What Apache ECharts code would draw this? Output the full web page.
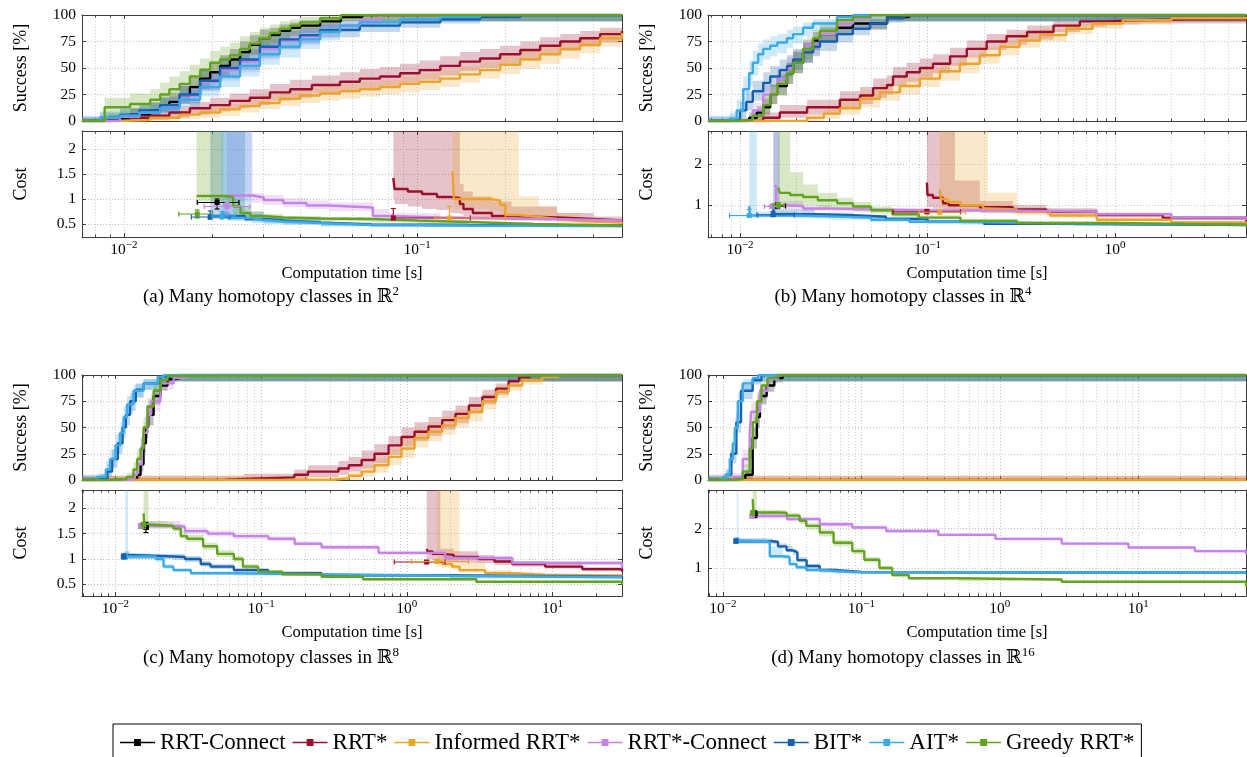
<!DOCTYPE html>
<html><head><meta charset="utf-8">
<script src="https://cdn.jsdelivr.net/npm/echarts/dist/echarts.min.js"></script>
<style>html,body{margin:0;padding:0;background:#fff}#c{width:1247px;height:757px}</style>
</head><body><div id="c"></div>
<script>
const planners = ['RRT-Connect','RRT*','Informed RRT*','RRT*-Connect','BIT*','AIT*','Greedy RRT*'];
const colors = ['#000000','#9b0f2c','#eda22a','#c883e8','#1661ae','#3aabe8','#62a31f'];

// rows: [time, median, lower CI, upper CI]
// ---------- (a) R^2 success ----------
const aS_RRTC = [[0.0072,0,0,2],[0.0089,2,0,6],[0.0105,6,2,12],[0.0123,10,5,18],[0.0133,14,8,22],[0.0143,18,11,27],[0.0155,24,16,33],[0.0168,32,23,42],[0.0182,40,30,50],[0.0197,46,36,56],[0.0213,52,42,62],[0.023,58,48,68],[0.0249,65,55,75],[0.0269,72,62,81],[0.0291,78,68,86],[0.0315,81,72,88],[0.034,85,77,91],[0.0369,88,80,93],[0.0399,90,83,95],[0.0467,94,88,98],[0.055,98,94,100],[0.065,100,94,100],[0.5,100,94,100]];
const aS_RRT = [[0.0072,0,0,0],[0.0089,1,0,3],[0.0105,3,0,7],[0.0123,5,1,10],[0.0143,8,3,14],[0.0168,12,6,18],[0.0197,15,9,22],[0.023,19,12,26],[0.0269,22,15,30],[0.0315,27,19,35],[0.0369,30,22,39],[0.0438,34,26,43],[0.0546,37,29,46],[0.0638,40,31,49],[0.0748,42,33,51],[0.0875,45,36,54],[0.102,48,39,57],[0.12,52,43,61],[0.14,56,47,65],[0.164,59,50,68],[0.192,63,54,71],[0.225,67,58,75],[0.263,71,62,79],[0.308,75,66,82],[0.36,78,70,85],[0.421,82,74,88],[0.5,85,77,90]];
const aS_IRRT = [[0.0072,0,0,0],[0.0097,1,0,3],[0.0123,3,0,6],[0.0155,6,2,10],[0.0182,8,3,13],[0.0213,11,5,16],[0.0249,14,8,20],[0.0291,17,11,24],[0.034,21,14,28],[0.0399,24,17,31],[0.0467,26,19,33],[0.0546,28,21,35],[0.0638,30,23,37],[0.0748,32,25,39],[0.0875,35,27,42],[0.102,37,29,45],[0.12,40,32,48],[0.14,44,36,52],[0.164,48,40,56],[0.192,53,44,61],[0.225,58,49,66],[0.263,63,54,71],[0.308,68,59,76],[0.36,72,64,80],[0.421,78,70,85],[0.5,83,75,88]];
const aS_RRTCS = [[0.0072,0,0,3],[0.0097,4,1,9],[0.0113,8,3,14],[0.0133,14,8,22],[0.0155,24,16,33],[0.0182,37,28,47],[0.0213,48,38,58],[0.0249,56,46,66],[0.0291,68,58,77],[0.034,76,67,84],[0.0399,80,72,87],[0.0467,85,78,91],[0.0546,90,84,95],[0.0638,95,90,98],[0.0748,100,94,100],[0.5,100,94,100]];
const aS_BIT = [[0.0072,0,0,4],[0.0083,3,0,8],[0.0097,6,2,12],[0.0113,10,5,17],[0.0133,15,9,23],[0.0155,25,17,34],[0.0182,38,29,47],[0.0213,50,40,60],[0.0249,58,48,68],[0.0291,70,60,79],[0.034,77,68,85],[0.0399,81,73,88],[0.0467,86,79,92],[0.0638,90,84,95],[0.0875,93,88,97],[0.12,96,92,99],[0.164,98,94,100],[0.225,100,94,100],[0.5,100,94,100]];
const aS_AIT = [[0.0072,0,0,5],[0.0083,3,0,9],[0.0097,5,1,11],[0.0113,8,3,15],[0.0133,12,6,20],[0.0155,20,13,29],[0.0182,32,23,42],[0.0213,42,32,52],[0.0249,52,42,62],[0.0291,63,53,73],[0.034,70,60,79],[0.0399,77,68,85],[0.0467,84,76,90],[0.0546,90,84,95],[0.0638,93,88,97],[0.0875,96,92,99],[0.12,98,94,100],[0.164,100,94,100],[0.5,100,94,100]];
const aS_GRRT = [[0.0072,0,0,3],[0.0086,13,5,22],[0.0105,16,8,26],[0.0123,20,12,30],[0.0133,25,16,36],[0.0143,30,20,42],[0.0155,35,25,47],[0.0168,42,32,53],[0.0182,48,38,59],[0.0197,55,45,66],[0.0213,58,48,70],[0.023,62,52,74],[0.0249,68,58,80],[0.0269,73,63,84],[0.0291,78,69,88],[0.0315,83,74,91],[0.034,87,79,94],[0.0369,90,83,96],[0.0399,93,87,98],[0.0467,97,92,100],[0.055,100,94,100],[0.5,100,94,100]];
// ---------- (a) cost ----------
const aC_RRT = [[0.083,1.42,1.0,2.4],[0.0838,1.2,0.9,2.4],[0.093,1.15,0.85,2.4],[0.104,1.1,0.8,2.4],[0.117,1.04,0.78,2.4],[0.13,1.02,0.72,2.4],[0.14,0.9,0.7,1.3],[0.144,0.8,0.66,1.15],[0.155,0.72,0.63,1.05],[0.18,0.66,0.6,0.95],[0.21,0.63,0.58,0.85],[0.3,0.6,0.56,0.72],[0.4,0.57,0.53,0.65],[0.5,0.54,0.51,0.6]];
const aC_IRRT = [[0.132,1.55,1.1,2.4],[0.1335,1.0,0.8,2.4],[0.177,0.97,0.75,2.4],[0.192,0.88,0.7,2.4],[0.2,0.68,0.6,2.4],[0.222,0.64,0.58,1.05],[0.26,0.6,0.55,0.85],[0.3,0.56,0.52,0.72],[0.36,0.53,0.49,0.6],[0.5,0.51,0.48,0.55]];
const aC_RRTCS = [[0.0225,1.07,0.95,2.4],[0.0275,1.03,0.92,1.12],[0.03,0.98,0.88,1.08],[0.035,0.92,0.84,1.02],[0.042,0.87,0.8,0.97],[0.05,0.83,0.76,0.93],[0.0707,0.66,0.6,0.8],[0.08,0.63,0.58,0.72],[0.12,0.61,0.57,0.66],[0.2,0.59,0.56,0.62],[0.35,0.57,0.54,0.6],[0.5,0.56,0.53,0.59]];
const aC_BIT = [[0.0197,0.66,0.6,2.4],[0.0259,0.6,0.55,0.75],[0.03,0.57,0.52,0.65],[0.035,0.53,0.5,0.6],[0.047,0.49,0.46,0.53],[0.07,0.48,0.45,0.51],[0.15,0.47,0.44,0.49],[0.5,0.46,0.43,0.48]];
const aC_AIT = [[0.0215,0.72,0.6,2.4],[0.0225,0.62,0.56,2.4],[0.0273,0.58,0.52,0.7],[0.03,0.55,0.5,0.62],[0.035,0.52,0.48,0.58],[0.047,0.48,0.45,0.52],[0.07,0.47,0.44,0.5],[0.15,0.46,0.43,0.48],[0.5,0.45,0.42,0.47]];
const aC_GRRT = [[0.0177,1.06,0.95,2.4],[0.0218,1.04,0.85,1.1],[0.0236,0.85,0.7,1.0],[0.025,0.72,0.63,0.85],[0.027,0.66,0.6,0.75],[0.03,0.63,0.58,0.7],[0.035,0.61,0.57,0.66],[0.047,0.6,0.56,0.64],[0.07,0.57,0.53,0.6],[0.1,0.54,0.5,0.57],[0.15,0.5,0.47,0.53],[0.25,0.47,0.44,0.5],[0.5,0.45,0.42,0.47]];
// initial solution markers: [planner, t, cost, tLo, tHi, costLo, costHi]
const aX = [[0,0.0208,0.93,0.0178,0.0247,0.8,1.0],[6,0.0178,0.70,0.0154,0.0201,0.62,0.78],[4,0.0197,0.64,0.017,0.023,0.6,0.76],[3,0.0225,0.85,0.0188,0.0269,0.72,0.93],[5,0.0216,0.66,0.02,0.024,0.6,0.75],[1,0.083,0.62,0.082,0.152,0.59,0.81],[2,0.129,0.62,0.115,0.2,0.59,0.85]];

// ---------- (b) R^4 success ----------
const bS_RRTC = [[0.00675,0,0,0],[0.0104,0,0,2],[0.0112,3,0,8],[0.0123,8,2,14],[0.0133,13,6,21],[0.0145,25,16,34],[0.0158,33,24,43],[0.0178,45,35,55],[0.0192,55,45,65],[0.0217,65,55,74],[0.0245,76,67,84],[0.0267,82,74,88],[0.0329,88,81,93],[0.04,92,86,96],[0.0609,98,94,100],[0.08,100,94,100],[5,100,94,100]];
const bS_RRT = [[0.00675,0,0,0],[0.0117,0,0,2],[0.0133,3,0,8],[0.0163,8,3,15],[0.0228,13,6,20],[0.0341,20,12,28],[0.0437,24,16,32],[0.0513,31,22,40],[0.0608,34,25,43],[0.0655,42,33,51],[0.0775,46,37,55],[0.0911,50,41,59],[0.107,54,45,63],[0.132,61,52,69],[0.162,68,60,76],[0.207,75,67,82],[0.264,80,72,86],[0.34,84,77,90],[0.47,90,84,94],[0.65,94,89,97],[0.9,95,91,98],[1.36,96,92,99],[2.5,96,92,100],[5,97,92,100]];
const bS_IRRT = [[0.00675,0,0,0],[0.0163,0,0,1],[0.0228,3,0,6],[0.028,7,2,12],[0.0341,12,6,19],[0.0437,21,13,29],[0.0558,27,19,35],[0.0713,33,25,41],[0.0911,40,32,49],[0.1166,47,38,55],[0.149,54,45,62],[0.19,62,54,70],[0.243,70,62,77],[0.31,76,69,83],[0.398,81,75,87],[0.55,87,82,92],[0.76,92,87,95],[1.1,95,91,98],[2.0,97,94,99],[5,98,95,100]];
const bS_RRTCS = [[0.00675,0,0,0],[0.0096,1,0,3],[0.0117,10,4,17],[0.0133,25,16,35],[0.0158,40,30,50],[0.0178,50,40,60],[0.0192,58,48,67],[0.0217,68,58,77],[0.0228,72,62,80],[0.0267,82,74,89],[0.0329,92,86,96],[0.04,97,93,99],[0.0494,100,94,100],[5,100,94,100]];
const bS_BIT = [[0.00675,0,0,4],[0.0088,1,0,5],[0.01,10,3,18],[0.0108,18,10,28],[0.0117,28,19,38],[0.0133,36,27,46],[0.0145,42,32,52],[0.0163,48,38,58],[0.0178,52,42,62],[0.0192,58,48,68],[0.0217,65,55,74],[0.0245,70,61,79],[0.0267,75,66,83],[0.0329,82,74,88],[0.04,87,81,92],[0.0494,92,87,96],[0.0609,97,93,99],[0.075,100,94,100],[5,100,94,100]];
const bS_AIT = [[0.00675,0,0,5],[0.0088,2,0,8],[0.0096,10,3,20],[0.0104,30,18,42],[0.0112,45,33,57],[0.0117,55,43,66],[0.0125,63,52,73],[0.0133,68,58,77],[0.0145,71,61,80],[0.0158,74,64,82],[0.0178,78,69,86],[0.0192,82,73,89],[0.0217,88,80,93],[0.0245,92,85,96],[0.0329,98,94,100],[0.04,100,94,100],[5,100,94,100]];
const bS_GRRT = [[0.00675,0,0,0],[0.0089,1,0,3],[0.0117,5,1,10],[0.0133,15,8,24],[0.0145,25,16,35],[0.0158,35,25,45],[0.0178,45,35,55],[0.0192,55,45,65],[0.0217,68,58,77],[0.0245,78,69,86],[0.0267,85,77,91],[0.0329,95,90,98],[0.04,98,94,100],[0.0494,100,94,100],[5,100,94,100]];
// ---------- (b) cost ----------
const bC_RRT = [[0.0993,1.55,1.0,2.9],[0.1,1.25,0.95,2.9],[0.107,1.18,0.92,2.9],[0.121,1.05,0.88,2.9],[0.13,1.0,0.85,2.9],[0.14,1.0,0.85,1.6],[0.19,0.95,0.82,1.1],[0.285,0.9,0.8,1.0],[0.43,0.85,0.77,0.93],[0.8,0.76,0.72,0.82],[1.8,0.69,0.65,0.74],[5,0.61,0.57,0.65]];
const bC_IRRT = [[0.116,1.38,1.0,2.9],[0.118,1.15,0.95,2.9],[0.128,1.08,0.92,2.9],[0.15,1.0,0.88,2.9],[0.198,0.92,0.82,2.9],[0.21,0.9,0.8,1.3],[0.3,0.85,0.77,0.95],[0.45,0.75,0.7,0.82],[0.8,0.65,0.61,0.7],[2,0.58,0.55,0.62],[5,0.55,0.52,0.58]];
const bC_RRTCS = [[0.0152,1.47,0.95,2.9],[0.0156,1.0,0.9,2.9],[0.0163,0.98,0.9,1.1],[0.0217,0.92,0.86,1.0],[0.03,0.9,0.85,0.96],[0.05,0.88,0.84,0.93],[0.1,0.87,0.83,0.92],[0.3,0.85,0.81,0.89],[0.8,0.78,0.75,0.82],[2,0.7,0.67,0.74],[5,0.64,0.61,0.67]];
const bC_BIT = [[0.015,0.95,0.72,2.9],[0.0152,0.78,0.72,2.9],[0.0162,0.78,0.72,0.9],[0.025,0.76,0.7,0.82],[0.04,0.72,0.67,0.77],[0.06,0.67,0.62,0.72],[0.1,0.6,0.56,0.64],[0.2,0.55,0.52,0.58],[0.6,0.52,0.5,0.55],[5,0.5,0.47,0.52]];
const bC_AIT = [[0.0112,0.98,0.7,2.9],[0.0113,0.75,0.7,2.9],[0.0123,0.75,0.7,0.85],[0.0192,0.73,0.68,0.8],[0.03,0.7,0.65,0.76],[0.05,0.65,0.6,0.7],[0.08,0.6,0.56,0.64],[0.15,0.56,0.53,0.6],[0.5,0.53,0.5,0.56],[5,0.5,0.47,0.53]];
const bC_GRRT = [[0.016,1.42,1.0,2.9],[0.0163,1.3,1.0,2.9],[0.0185,1.25,1.0,1.8],[0.0217,1.2,1.0,1.5],[0.026,1.12,0.95,1.3],[0.033,1.05,0.9,1.18],[0.04,0.97,0.85,1.08],[0.05,0.88,0.8,0.97],[0.065,0.78,0.72,0.85],[0.09,0.7,0.65,0.76],[0.15,0.62,0.58,0.67],[0.3,0.57,0.54,0.6],[1,0.53,0.5,0.56],[5,0.49,0.46,0.52]];
const bX = [[0,0.0158,0.98,0.0148,0.0175,0.92,1.05],[3,0.0148,0.97,0.0135,0.016,0.92,1.02],[6,0.016,1.0,0.015,0.0172,0.94,1.06],[5,0.0112,0.75,0.0088,0.0125,0.72,0.9],[4,0.015,0.77,0.0123,0.0195,0.74,0.85],[1,0.0993,0.84,0.0655,0.15,0.8,0.9],[2,0.116,0.83,0.09,0.16,0.8,0.88]];

// ---------- (c) R^8 success ----------
const cS_RRTC = [[0.0059,0,0,0],[0.0133,0,0,2],[0.0141,5,1,10],[0.0149,15,8,23],[0.0156,35,26,45],[0.0162,50,40,60],[0.0168,62,52,71],[0.0183,80,72,87],[0.0204,90,85,95],[0.0228,96,92,99],[0.0251,97,94,100],[0.028,100,94,100],[30,100,94,100]];
const cS_RRT = [[0.0059,0,0,4],[0.053,1,0,4],[0.0763,2.5,0,6],[0.169,5,1,10],[0.21,8,3,14],[0.34,11,5,18],[0.4,14,8,22],[0.49,19,11,28],[0.6,25,16,34],[0.75,33,24,42],[0.92,41,32,50],[1.13,46,37,55],[1.41,51,42,60],[1.75,57,48,66],[2.16,63,54,71],[2.67,71,63,79],[3.3,79,72,86],[4.1,87,81,92],[5.0,94,89,97],[5.9,98,94,100],[7.0,100,94,100],[30,100,94,100]];
const cS_IRRT = [[0.0059,0,0,4],[0.3,1.6,0,4],[0.4,4,0,8],[0.49,8,3,14],[0.6,14,7,21],[0.75,22,14,30],[0.92,30,21,39],[1.13,40,31,49],[1.41,46,37,55],[1.75,52,43,61],[2.16,59,50,67],[2.67,65,56,73],[3.3,75,67,82],[4.1,84,78,90],[5.0,90,85,94],[6.2,95,91,98],[8.5,98,94,100],[11,100,94,100],[30,100,94,100]];
const cS_RRTCS = [[0.0059,0,0,0],[0.0114,1,0,3],[0.0133,5,1,10],[0.0141,15,8,23],[0.0152,30,21,40],[0.0156,45,35,55],[0.0166,62,52,71],[0.0175,75,66,83],[0.0204,92,86,96],[0.0251,97,94,99],[0.0281,98,94,100],[0.031,100,94,100],[30,100,94,100]];
const cS_BIT = [[0.0059,0,0,3],[0.0079,2,0,6],[0.0088,8,3,15],[0.0095,20,12,29],[0.0104,35,25,45],[0.0112,50,40,60],[0.0118,62,52,71],[0.0126,75,66,83],[0.0138,86,79,92],[0.0156,92,86,96],[0.0204,98,94,100],[0.024,100,94,100],[30,100,94,100]];
const cS_AIT = [[0.0059,0,0,5],[0.0075,3,0,6],[0.0086,10,4,18],[0.0092,20,12,29],[0.01,33,24,43],[0.0108,45,35,55],[0.0114,60,50,70],[0.012,72,63,80],[0.0133,85,78,91],[0.0156,92,86,96],[0.0195,98,94,100],[0.0215,100,94,100],[30,100,94,100]];
const cS_GRRT = [[0.0059,0,0,0],[0.0095,1,0,3],[0.012,3,0,7],[0.0133,10,4,17],[0.0141,20,12,29],[0.0149,30,21,40],[0.0156,50,40,60],[0.0166,70,61,78],[0.0183,85,78,91],[0.0204,95,91,98],[0.0228,99,94,100],[0.025,100,94,100],[30,100,94,100]];
// ---------- (c) cost ----------
const cC_RRT = [[1.37,1.2,1.0,2.5],[1.39,1.15,1.0,2.5],[1.5,1.1,0.98,2.5],[1.7,1.08,0.96,1.2],[2.1,1.04,0.93,1.15],[3.1,1.0,0.92,1.08],[4.0,0.95,0.88,1.02],[5.3,0.9,0.85,0.96],[8.9,0.85,0.81,0.9],[16,0.8,0.76,0.84],[30,0.75,0.72,0.79]];
const cC_IRRT = [[1.61,0.95,0.85,2.5],[1.75,0.9,0.82,2.5],[2.05,0.85,0.78,2.5],[2.3,0.78,0.73,0.95],[3.45,0.72,0.69,0.78],[5.3,0.69,0.66,0.73],[8.9,0.67,0.64,0.7],[30,0.65,0.62,0.68]];
const cC_RRTCS = [[0.0149,1.65,1.6,1.75],[0.028,1.63,1.58,1.7],[0.03,1.55,1.5,1.62],[0.043,1.5,1.45,1.56],[0.065,1.45,1.4,1.5],[0.112,1.4,1.35,1.45],[0.17,1.3,1.26,1.35],[0.26,1.23,1.19,1.28],[0.64,1.12,1.08,1.16],[1.83,1.02,0.98,1.06],[5.3,0.92,0.88,0.96],[30,0.81,0.78,0.85]];
const cC_BIT = [[0.0114,1.08,1.0,1.15],[0.0125,1.05,1.0,1.1],[0.025,1.04,0.98,1.1],[0.03,1.0,0.94,1.06],[0.0385,0.9,0.85,0.96],[0.045,0.85,0.8,0.9],[0.065,0.78,0.74,0.82],[0.112,0.72,0.69,0.76],[0.26,0.68,0.65,0.71],[2,0.65,0.62,0.68],[30,0.62,0.6,0.65]];
const cC_AIT = [[0.0117,1.1,1.0,2.5],[0.0119,1.05,1.0,2.5],[0.0122,1.05,1.0,1.12],[0.0174,1.05,1.0,1.1],[0.019,1.0,0.95,1.05],[0.0214,0.85,0.8,0.9],[0.025,0.78,0.74,0.82],[0.033,0.72,0.69,0.76],[0.065,0.7,0.67,0.73],[0.26,0.67,0.64,0.7],[2,0.64,0.62,0.67],[30,0.63,0.6,0.66]];
const cC_GRRT = [[0.0156,1.9,1.6,2.5],[0.0158,1.68,1.6,2.5],[0.0169,1.66,1.6,1.75],[0.0228,1.65,1.6,1.72],[0.025,1.6,1.54,1.68],[0.0281,1.45,1.4,1.55],[0.031,1.4,1.34,1.48],[0.04,1.25,1.18,1.32],[0.05,1.1,1.04,1.17],[0.065,1.0,0.95,1.06],[0.075,0.85,0.8,0.9],[0.0954,0.75,0.72,0.79],[0.14,0.7,0.67,0.73],[0.26,0.65,0.62,0.68],[0.5,0.6,0.57,0.63],[3,0.55,0.53,0.57],[30,0.49,0.47,0.51]];
const cX = [[0,0.0162,1.62,0.0158,0.0168,1.52,1.72],[3,0.0149,1.65,0.0145,0.0154,1.6,1.7],[6,0.0156,1.67,0.015,0.0162,1.6,1.72],[5,0.0117,1.05,0.0113,0.0121,1.0,1.1],[4,0.0114,1.05,0.011,0.0118,1.0,1.1],[1,1.37,0.94,0.82,1.83,0.92,0.97],[2,1.61,0.95,1.08,2.65,0.93,0.98]];

// ---------- (d) R^16 success ----------
const dS_RRTC = [[0.0078,0,0,0],[0.0135,1,0,3],[0.0145,5,1,10],[0.0164,40,30,50],[0.0176,60,50,70],[0.0185,80,72,87],[0.0207,90,84,95],[0.0235,97,93,99],[0.027,100,94,100],[60,100,94,100]];
const dS_RRT = [[0.0078,0,0,4],[60,0,0,4]];
const dS_IRRT = [[0.0078,0,0,4],[60,0,0,4]];
const dS_RRTCS = [[0.0078,0,0,0],[0.0115,1,0,3],[0.0118,3,0,7],[0.0139,20,12,29],[0.0156,45,35,55],[0.016,65,55,74],[0.0185,85,77,91],[0.021,96,92,99],[0.025,100,94,100],[60,100,94,100]];
const dS_BIT = [[0.0078,0,0,3],[0.0105,5,1,10],[0.0115,25,16,35],[0.0125,55,45,65],[0.0135,85,77,91],[0.0164,95,91,98],[0.019,100,94,100],[60,100,94,100]];
const dS_AIT = [[0.0078,0,0,5],[0.0098,2,0,6],[0.0105,5,1,10],[0.0112,20,12,29],[0.0118,35,26,45],[0.0122,50,40,60],[0.0128,75,66,83],[0.0139,92,86,96],[0.0164,97,94,100],[0.018,100,94,100],[60,100,94,100]];
const dS_GRRT = [[0.0078,0,0,0],[0.0118,1,0,3],[0.0139,8,3,15],[0.0156,30,21,40],[0.0164,55,45,65],[0.0176,75,66,83],[0.019,90,84,95],[0.021,97,93,99],[0.025,100,94,100],[60,100,94,100]];
// ---------- (d) cost ----------
const dC_RRTCS = [[0.0162,2.32,2.25,2.4],[0.0257,2.32,2.26,2.39],[0.029,2.24,2.18,2.3],[0.05,2.11,2.05,2.17],[0.086,2.03,1.98,2.08],[0.151,1.94,1.89,1.99],[0.36,1.84,1.8,1.89],[0.93,1.74,1.7,1.78],[2.8,1.62,1.58,1.66],[8.5,1.52,1.48,1.56],[25.6,1.43,1.39,1.47],[60,1.34,1.3,1.38]];
const dC_BIT = [[0.0124,1.68,1.62,1.75],[0.0229,1.66,1.6,1.72],[0.025,1.55,1.5,1.62],[0.0288,1.45,1.4,1.55],[0.0319,1.4,1.33,1.48],[0.0345,1.2,1.14,1.28],[0.0402,1.05,1.0,1.1],[0.05,0.95,0.92,0.99],[0.065,0.9,0.87,0.93],[0.1,0.88,0.85,0.91],[60,0.84,0.81,0.87]];
const dC_AIT = [[0.0126,1.7,1.62,3.1],[0.0129,1.68,1.62,1.75],[0.0207,1.66,1.6,1.72],[0.0218,1.3,1.25,1.55],[0.027,1.28,1.22,1.35],[0.0303,1.1,1.05,1.2],[0.034,1.02,0.97,1.08],[0.04,0.95,0.91,1.0],[0.05,0.9,0.87,0.94],[0.086,0.88,0.85,0.91],[60,0.87,0.84,0.9]];
const dC_GRRT = [[0.0164,2.75,2.3,3.1],[0.0166,2.41,2.3,3.1],[0.0176,2.41,2.34,2.48],[0.0257,2.4,2.33,2.47],[0.0288,2.33,2.26,2.4],[0.0358,2.2,2.12,2.28],[0.04,2.07,1.98,2.15],[0.05,1.9,1.8,1.98],[0.063,1.64,1.55,1.72],[0.086,1.43,1.35,1.5],[0.105,1.21,1.14,1.28],[0.135,1.0,0.95,1.06],[0.167,0.82,0.78,0.86],[0.22,0.74,0.71,0.77],[0.5,0.71,0.68,0.74],[2.8,0.65,0.62,0.68],[60,0.53,0.5,0.56]];
const dX = [[0,0.017,2.37,0.0165,0.0176,2.28,2.45],[3,0.0162,2.32,0.0158,0.0168,2.27,2.38],[6,0.0164,2.4,0.016,0.0169,2.34,2.46],[5,0.0126,1.7,0.0123,0.0129,1.65,1.76],[4,0.0124,1.68,0.0121,0.0127,1.64,1.73]];

const panels = [
  {succ:[aS_RRTC,aS_RRT,aS_IRRT,aS_RRTCS,aS_BIT,aS_AIT,aS_GRRT], cost:[null,aC_RRT,aC_IRRT,aC_RRTCS,aC_BIT,aC_AIT,aC_GRRT], cross:aX,
   xr:[0.0072,0.5], cr:[0.24,2.36], cstep:0.5, S:{left:82,top:15,width:540,height:106}, C:{left:82,top:131,width:540,height:106}, cap:['(a) Many homotopy classes in ℝ','2'], capPos:[271,296]},
  {succ:[bS_RRTC,bS_RRT,bS_IRRT,bS_RRTCS,bS_BIT,bS_AIT,bS_GRRT], cost:[null,bC_RRT,bC_IRRT,bC_RRTCS,bC_BIT,bC_AIT,bC_GRRT], cross:bX,
   xr:[0.00675,5], cr:[0.23,2.8], cstep:1, S:{left:708,top:15,width:538,height:106}, C:{left:708,top:131,width:538,height:106}, cap:['(b) Many homotopy classes in ℝ','4'], capPos:[903,296]},
  {succ:[cS_RRTC,cS_RRT,cS_IRRT,cS_RRTCS,cS_BIT,cS_AIT,cS_GRRT], cost:[null,cC_RRT,cC_IRRT,cC_RRTCS,cC_BIT,cC_AIT,cC_GRRT], cross:cX,
   xr:[0.0059,30], cr:[0.27,2.36], cstep:0.5, S:{left:82,top:375,width:540,height:105}, C:{left:82,top:490,width:540,height:106}, cap:['(c) Many homotopy classes in ℝ','8'], capPos:[271,657]},
  {succ:[dS_RRTC,dS_RRT,dS_IRRT,dS_RRTCS,dS_BIT,dS_AIT,dS_GRRT], cost:[null,null,null,dC_RRTCS,dC_BIT,dC_AIT,dC_GRRT], cross:dX,
   xr:[0.0078,60], cr:[0.29,2.98], cstep:1, S:{left:708,top:375,width:538,height:105}, C:{left:708,top:490,width:538,height:106}, cap:['(d) Many homotopy classes in ℝ','16'], capPos:[903,657]}
];

const FONT = "'Liberation Serif','DejaVu Serif',serif";
const AX = '#3c3c3c';
function rgba(hex, a){const n=parseInt(hex.slice(1),16);return 'rgba('+(n>>16&255)+','+(n>>8&255)+','+(n&255)+','+a+')';}
function logFmt(v){const e=Math.log10(v), r=Math.round(e); if(Math.abs(e-r)>1e-6) return ''; return '{b|10}{s|'+(r<0?'\u2212'+(-r):r)+'}';}
const supRich = {b:{fontFamily:FONT,fontSize:15.5,color:'#000',verticalAlign:'bottom'}, s:{fontFamily:FONT,fontSize:11,color:'#000',verticalAlign:'bottom',padding:[0,0,7,0]}};

const grids=[], xAxes=[], yAxes=[], series=[];
function addGrid(rect, xr, yCfg, isCost){
  const gi = grids.length;
  grids.push(Object.assign({show:false, containLabel:false, outerBoundsMode:'none'}, rect));
  const xBase = {type:'log', logBase:10, gridIndex:gi, min:xr[0], max:xr[1],
    axisLine:{show:true,onZero:false,lineStyle:{color:AX,width:1}},
    axisTick:{show:true,inside:true,length:4,lineStyle:{color:AX}},
    minorTick:{show:true,splitNumber:9,length:2.5,lineStyle:{color:AX}}};
  xAxes.push(Object.assign({}, xBase, {position:'bottom',
    splitLine:{show:true,lineStyle:{color:'#c4c4c4',type:[1,2],width:1}},
    minorSplitLine:{show:true,lineStyle:{color:'#d2d2d2',type:[1,2],width:1}},
    axisLabel:{show:isCost,formatter:logFmt,margin:3,rich:supRich},
    name:isCost?'Computation time [s]':'', nameLocation:'middle', nameGap:28,
    nameTextStyle:{fontFamily:FONT,fontSize:16.5,color:'#000'}}));
  xAxes.push(Object.assign({}, xBase, {position:'top', axisLabel:{show:false}, splitLine:{show:false}, minorSplitLine:{show:false}}));
  const yBase = {type:'value', gridIndex:gi, min:yCfg.min, max:yCfg.max,
    axisLine:{show:true,onZero:false,lineStyle:{color:AX,width:1}},
    axisTick:{show:true,inside:true,length:4,lineStyle:{color:AX}}};
  if (yCfg.interval) yBase.interval = yCfg.interval; else yBase.splitNumber = yCfg.split;
  yAxes.push(Object.assign({}, yBase, {position:'left',
    splitLine:{show:true,lineStyle:{color:'#c4c4c4',type:[1,2],width:1}},
    axisLabel:{show:true,margin:6,fontFamily:FONT,fontSize:15.5,color:'#000',formatter:yCfg.fmt},
    name:yCfg.name, nameLocation:'middle', nameGap:52,
    nameTextStyle:{fontFamily:FONT,fontSize:18,color:'#000'}}));
  yAxes.push(Object.assign({}, yBase, {position:'right', axisLabel:{show:false}, splitLine:{show:false}}));
  return {xi:2*gi, yi:2*gi};
}

function bandPts(rows, api, rect){
  const up=[], dn=[]; const cy=y=>Math.max(rect.y,Math.min(rect.y+rect.height,y));
  for(let i=0;i<rows.length;i++){
    const t0=rows[i][0], t1=i+1<rows.length?rows[i+1][0]:rows[i][0];
    const a=api.coord([t0,rows[i][3]]), b=api.coord([t1,rows[i][3]]);
    const c=api.coord([t0,rows[i][2]]), d=api.coord([t1,rows[i][2]]);
    up.push([a[0],cy(a[1])],[b[0],cy(b[1])]); dn.push([c[0],cy(c[1])],[d[0],cy(d[1])]);
  }
  return up.concat(dn.reverse());
}
function addPlanner(ax, rows, k){
  const col = colors[k];
  series.push({type:'custom', name:'_band', xAxisIndex:ax.xi, yAxisIndex:ax.yi, silent:true, z:1, animation:false,
    data:[[rows[0][0],rows[0][1]]],
    renderItem:(params,api)=>({type:'polygon', shape:{points:bandPts(rows,api,params.coordSys)}, style:{fill:rgba(col,0.25)}})});
}
function addLine(ax, rows, k){
  const col = colors[k];
  series.push({type:'line', name:planners[k], xAxisIndex:ax.xi, yAxisIndex:ax.yi, step:'end', symbol:'none', showSymbol:false,
    data:rows.map(r=>[r[0],r[1]]), color:col, lineStyle:{color:col,width:2.4}, itemStyle:{color:col}, z:3, silent:true, animation:false});
}
function addCross(ax, rows){
  series.push({type:'custom', name:'_cross', xAxisIndex:ax.xi, yAxisIndex:ax.yi, silent:true, z:5, animation:false,
    data:rows.map(r=>[r[1],r[2]]),
    renderItem:(params,api)=>{
      const r=rows[params.dataIndex], col=colors[r[0]];
      const m=api.coord([r[1],r[2]]), l=api.coord([r[3],r[2]]), h=api.coord([r[4],r[2]]);
      const lo=api.coord([r[1],r[5]]), hi=api.coord([r[1],r[6]]);
      const st={stroke:col,lineWidth:1.2};
      return {type:'group', children:[
        {type:'line',shape:{x1:l[0],y1:m[1],x2:h[0],y2:m[1]},style:st},
        {type:'line',shape:{x1:l[0],y1:m[1]-2.5,x2:l[0],y2:m[1]+2.5},style:st},
        {type:'line',shape:{x1:h[0],y1:m[1]-2.5,x2:h[0],y2:m[1]+2.5},style:st},
        {type:'line',shape:{x1:m[0],y1:lo[1],x2:m[0],y2:hi[1]},style:st},
        {type:'line',shape:{x1:m[0]-2.5,y1:lo[1],x2:m[0]+2.5,y2:lo[1]},style:st},
        {type:'line',shape:{x1:m[0]-2.5,y1:hi[1],x2:m[0]+2.5,y2:hi[1]},style:st},
        {type:'rect',shape:{x:m[0]-2.5,y:m[1]-2.5,width:5,height:5},style:{fill:col}}
      ]};
    }});
}

const graphics = [];
panels.forEach(p=>{
  const sAx = addGrid(p.S, p.xr, {min:0,max:100,interval:25,name:'Success [%]',fmt:v=>String(v)}, false);
  const cAx = addGrid(p.C, p.xr, {min:p.cr[0],max:p.cr[1],split:p.cstep===1?2:4,name:'Cost',
    fmt:v=>{const q=v/p.cstep; return Math.abs(q-Math.round(q))<1e-6?String(Math.round(v*10)/10):'';}}, true);
  p.succ.forEach((rows,k)=>addPlanner(sAx,rows,k));
  p.cost.forEach((rows,k)=>{ if(rows) addPlanner(cAx,rows,k); });
  p.succ.forEach((rows,k)=>addLine(sAx,rows,k));
  p.cost.forEach((rows,k)=>{ if(rows) addLine(cAx,rows,k); });
  addCross(cAx, p.cross);
  graphics.push({type:'text', x:p.capPos[0], y:p.capPos[1], silent:true,
    style:{text:'{m|'+p.cap[0]+'}{s|'+p.cap[1]+'}', align:'center', verticalAlign:'middle',
      rich:{m:{fontFamily:FONT,fontSize:19,fill:'#000',color:'#000',verticalAlign:'bottom'},
            s:{fontFamily:FONT,fontSize:13,fill:'#000',color:'#000',verticalAlign:'bottom',padding:[0,0,8,0]}}}});
});

const ICON = 'path://M0,3.2H36V4.8H0Z M14.5,0.5H21.5V7.5H14.5Z';
const chart = echarts.init(document.getElementById('c'), null, {renderer:'canvas'});
chart.setOption({
  animation:false, backgroundColor:'#fff',
  textStyle:{fontFamily:FONT},
  grid:grids, xAxis:xAxes, yAxis:yAxes, series:series, graphic:graphics,
  legend:{data:planners.map(n=>({name:n,icon:ICON})), selectedMode:false, orient:'horizontal',
    left:113, top:724, itemWidth:35, itemHeight:8, itemGap:7, padding:[7,7,14,7],
    borderColor:'#000', borderWidth:1, textStyle:{fontFamily:FONT,fontSize:23,color:'#000'}}
});
</script></body></html>
